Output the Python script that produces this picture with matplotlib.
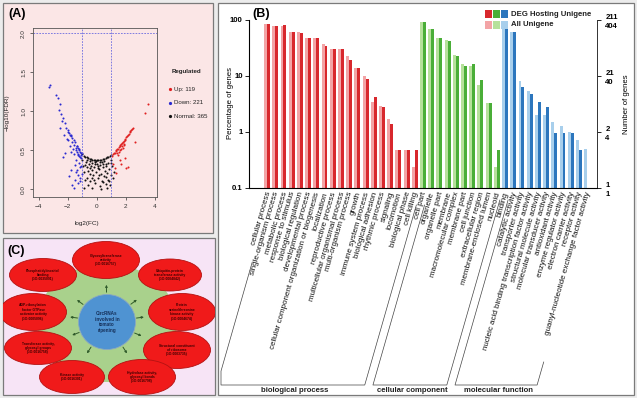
import numpy as np
import matplotlib
matplotlib.use('Agg')
import matplotlib.pyplot as plt
import matplotlib.transforms as mtransforms
from matplotlib.patches import Rectangle, Ellipse
from matplotlib.lines import Line2D

plt.rcParams['font.family'] = ['Liberation Sans', 'DejaVu Sans']

# ---------------- Panel A data (volcano) ----------------
up_fc = [2.49, 2.38, 2.26, 2.15, 2.03, 1.92, 1.80, 1.69, 1.57, 1.46, 1.34, 1.23, 1.11, 1.46, 1.85,
         3.52, 3.34, 2.61, 1.80, 1.92, 1.69, 2.03, 2.15, 1.34, 1.11, 1.23, 1.57,
         1.05, 1.17, 1.29, 1.40, 1.52, 1.63, 1.74, 1.86, 1.97, 2.09, 2.20, 2.32, 2.43,
         1.50, 1.60, 1.70, 1.40, 1.75, 1.90]
up_fdr = [0.79, 0.76, 0.73, 0.70, 0.67, 0.63, 0.60, 0.58, 0.55, 0.52, 0.50, 0.47, 0.45, 0.44, 0.58,
          1.10, 0.98, 0.60, 0.53, 0.40, 0.33, 0.27, 0.29, 0.21, 0.33, 0.27, 0.38,
          0.43, 0.46, 0.49, 0.51, 0.54, 0.57, 0.59, 0.62, 0.65, 0.68, 0.71, 0.75, 0.77,
          0.48, 0.50, 0.52, 0.46, 0.55, 0.57]
down_fc = [-3.29, -3.24, -2.83, -2.67, -2.55, -2.60, -2.44, -2.33, -2.42, -2.21, -2.55, -2.10, -1.98,
           -2.28, -1.87, -1.75, -1.98, -1.68, -1.59, -1.87, -1.45, -1.36, -2.21, -2.33, -1.29, -1.18,
           -1.41, -1.06, -1.52, -1.75, -1.36, -1.91, -1.52, -1.29, -1.59, -1.18, -1.80, -2.03, -1.22,
           -1.13, -1.05, -1.10, -1.15, -1.20, -1.25, -1.30, -1.35, -1.40, -1.50, -1.60, -1.70, -1.80,
           -1.90, -2.00, -1.12, -1.20, -1.30, -1.45, -1.55, -1.65, -1.10, -1.05, -1.15, -1.30, -1.70,
           -1.45]
down_fdr = [1.31, 1.34, 1.21, 1.17, 1.10, 1.02, 0.97, 0.91, 0.87, 0.85, 0.79, 0.78, 0.74,
            0.70, 0.70, 0.68, 0.63, 0.61, 0.57, 0.55, 0.53, 0.48, 0.47, 0.42, 0.44, 0.42,
            0.38, 0.40, 0.31, 0.25, 0.25, 0.17, 0.12, 0.18, 0.02, 0.10, 0.48, 0.65, 0.34,
            0.29, 0.46, 0.47, 0.48, 0.50, 0.51, 0.53, 0.55, 0.56, 0.60, 0.63, 0.66, 0.69,
            0.72, 0.76, 0.44, 0.43, 0.45, 0.50, 0.45, 0.52, 0.30, 0.20, 0.15, 0.08, 0.05,
            0.22]
normal_fc = [-1.0, -0.9, -0.8, -0.7, -0.6, -0.5, -0.4, -0.3, -0.2, -0.1, 0.0, 0.1, 0.2, 0.3, 0.4,
             0.5, 0.6, 0.7, 0.8, 0.9, 1.0,
             -0.95, -0.85, -0.75, -0.7, -0.65, -0.6, -0.55, -0.5, -0.45, -0.4, -0.35, -0.3, -0.25,
             -0.2, -0.15, -0.1, -0.05, 0.0, 0.05, 0.1, 0.15, 0.2, 0.25, 0.3, 0.35, 0.4, 0.45, 0.5,
             0.55, 0.6, 0.65, 0.7, 0.75, 0.8, 0.85, 0.9, 0.95, 1.05, 1.1, 1.2, -0.9, -0.8, -0.35,
             0.3, 0.7, -0.6, -0.2, 0.15, 0.5, -0.5, -0.15, 0.25, 0.6, -0.8, -0.3, 0.05, 0.45, 0.85,
             -0.65, 0.35, -1.0, 1.0, -0.05, 0.95, -0.45, 0.65]
normal_fdr = [0.45, 0.43, 0.42, 0.41, 0.40, 0.39, 0.385, 0.38, 0.375, 0.37, 0.37, 0.37, 0.375, 0.38,
              0.385, 0.39, 0.40, 0.41, 0.42, 0.43, 0.44,
              0.30, 0.22, 0.35, 0.15, 0.28, 0.05, 0.33, 0.20, 0.10, 0.30, 0.25, 0.34, 0.18,
              0.29, 0.08, 0.32, 0.22, 0.33, 0.14, 0.30, 0.26, 0.04, 0.31, 0.20, 0.11, 0.28, 0.33, 0.17,
              0.24, 0.07, 0.30, 0.21, 0.12, 0.34, 0.26, 0.05, 0.18, 0.30, 0.15, 0.22, 0.02, 0.12, 0.02,
              0.00, 0.01, 0.24, 0.12, 0.18, 0.36, 0.36, 0.35, 0.35, 0.32, 0.31, 0.14, 0.27, 0.09, 0.10,
              0.37, 0.35, 0.38, 0.37, 0.36, 0.34, 0.27, 0.16]
volcano_legend = ['Up: 119', 'Down: 221', 'Normal: 365']

# ---------------- Panel B data (GO classification) ----------------
bp_terms = ['cellular process', 'single-organism process', 'metabolic process', 'response to stimulus',
            'biological regulation', 'developmental process',
            'cellular component organization or biogenesis', 'localization', 'reproductive process',
            'multicellular organismal process', 'multi-organism process', 'growth',
            'immune system process', 'biological adhesion', 'rhythmic process', 'signaling',
            'locomotion', 'biological phase', 'cell killing']
bp_deg = [85, 79, 80, 62, 59, 47, 47, 34, 30, 30, 19.4, 13.7, 8.9, 4.3, 2.85, 1.4, 0.47, 0.47, 0.47]
bp_all = [85, 79, 78, 62, 60, 47, 48, 38, 30, 30, 23, 14, 10, 3.5, 2.9, 1.7, 0.48, 0.48, 0.24]

cc_terms = ['cell part', 'organelle', 'organelle part', 'membrane', 'macromolecular complex',
            'membrane part', 'cell junction', 'extracellular region', 'membrane-enclosed lumen',
            'nucleoid']
cc_deg = [92, 68, 47, 43, 23, 15.3, 16.4, 8.5, 3.3, 0.47]
cc_all = [92, 68, 48, 44, 24, 16.4, 15.3, 6.9, 3.3, 0.24]

mf_terms = ['binding', 'catalytic activity', 'transporter activity',
            'nucleic acid binding transcription factor activity', 'structural molecule activity',
            'molecular transducer activity', 'antioxidant activity', 'enzyme regulator activity',
            'electron carrier activity', 'receptor activity',
            'guanyl-nucleotide exchange factor activity']
mf_deg = [72, 60, 6.3, 4.8, 3.4, 2.85, 0.95, 0.95, 0.95, 0.47, 0]
mf_all = [78, 60, 8.0, 5.5, 2.0, 2.0, 1.48, 1.26, 1.0, 0.73, 0.49]

group_names = ['biological process', 'cellular component', 'molecular function']
pct_ticks = [100, 10, 1, 0.1]
pct_ticklabels = ['100', '10', '1', '0.1']
deg_counts = ['211', '21', '2', '1']
all_counts = ['404', '40', '4', '1']

# ---------------- Panel C data (diagram) ----------------
center_text = 'CircRNAs\ninvolved in\ntomato\nripening'
node_texts = ['Glycosyltransferase\nactivity\n(GO:0016757)',
              'Phosphatidylinositol\nbinding\n(GO:0035091)',
              'Ubiquitin-protein\ntransferase activity\n(GO:0004842)',
              'ADP-ribosylation\nfactor GTPase\nactivator activity\n(GO:0005096)',
              'Protein\nserine/threonine\nkinase activity\n(GO:0004674)',
              'Transferase activity,\nglycosyl groups\n(GO:0016758)',
              'Structural constituent\nof ribosome\n(GO:0003735)',
              'Kinase activity\n(GO:0016301)',
              'Hydrolase activity,\nglycosyl bonds\n(GO:0016798)']

# =========================================================
W, H = 637, 398
fig = plt.figure(figsize=(W / 100, H / 100), dpi=100, facecolor='#ececec')


def fr(l, t, r, b):
    return [l / W, 1 - b / H, (r - l) / W, (b - t) / H]


def fx(x):
    return x / W


def fy(y):
    return 1 - y / H


def panel_bg(l, t, r, b, fc):
    fig.patches.append(Rectangle((fx(l), fy(b)), (r - l) / W, (b - t) / H, transform=fig.transFigure,
                                 facecolor=fc, edgecolor='#7a7a7a', lw=0.9, zorder=-5))


panel_bg(3, 3, 213, 233, '#fbe6e6')
panel_bg(218, 3, 634, 395, '#ffffff')
panel_bg(3, 238, 215, 395, '#f7e4f6')

# ---------------- Panel A ----------------
axA = fig.add_axes(fr(33, 28, 157, 197))
axA.patch.set_alpha(0)
axA.scatter(normal_fc, normal_fdr, s=2.2, c='#111111', linewidths=0)
axA.scatter(down_fc, down_fdr, s=2.2, c='#2a2ad0', linewidths=0)
axA.scatter(up_fc, up_fdr, s=2.2, c='#e02020', linewidths=0)
dash = dict(color='#6a6ae0', lw=0.6, ls=(0, (2, 1.5)))
axA.axhline(2.0, **dash)
axA.axvline(-1, **dash)
axA.axvline(1, **dash)
axA.set_xlim(-4.4, 4.15)
axA.set_ylim(-0.1, 2.07)
axA.set_xticks([-4, -2, 0, 2, 4])
axA.set_yticks([0, 0.5, 1.0, 1.5, 2.0])
axA.set_yticklabels(['0.0', '0.5', '1.0', '1.5', '2.0'], rotation=90, va='center')
axA.tick_params(labelsize=4.6, length=2.5, width=0.5, colors='#333333', pad=2.5)
for s in axA.spines.values():
    s.set_linewidth(0.6)
    s.set_color('#555555')
fig.text(fx(7), fy(113), '\u2212log10(FDR)', rotation=90, ha='center', va='center', size=4.6,
         color='#222222')
fig.text(fx(87), fy(224), 'log2(FC)', ha='center', va='center', size=4.6, color='#222222')
fig.text(fx(8), fy(14), '(A)', ha='left', va='center', size=9, weight='bold')
fig.text(fx(172), fy(72), 'Regulated', ha='left', va='center', size=4.4, weight='bold', color='#222222')
for k, (lab, col) in enumerate(zip(volcano_legend, ['#e02020', '#2a2ad0', '#111111'])):
    yy = 89 + k * 13.5
    fig.add_artist(Line2D([fx(170)], [fy(yy)], marker='o', ms=1.3, color=col, lw=0,
                          transform=fig.transFigure))
    fig.text(fx(174), fy(yy), lab, ha='left', va='center', size=4.4, color='#222222')

# ---------------- Panel B ----------------
axB = fig.add_axes(fr(249, 20, 597, 188))
axB.set_yscale('log')
groups = [(bp_terms, bp_deg, bp_all, '#d8282d', '#f3a4a6'),
          (cc_terms, cc_deg, cc_all, '#4aae38', '#b6e19b'),
          (mf_terms, mf_deg, mf_all, '#2c76bd', '#a8cfec')]
all_terms = []
group_ranges = []
start = 0
bw = 0.36
for terms, deg, allv, cd, cl in groups:
    xs = np.arange(start, start + len(terms))
    allv = np.array(allv, float)
    deg = np.array(deg, float)
    axB.bar(xs - bw / 2, allv, width=bw, color=cl, linewidth=0)
    m = deg > 0
    axB.bar(xs[m] + bw / 2, deg[m], width=bw, color=cd, linewidth=0)
    all_terms += terms
    group_ranges.append((start, start + len(terms) - 1))
    start += len(terms)
axB.set_xlim(-2.2, 40.2)
axB.set_ylim(0.1, 100)
axB.set_xticks([])
axB.set_yticks(pct_ticks)
axB.set_yticklabels(pct_ticklabels)
axB.minorticks_off()
axB.tick_params(axis='y', labelsize=5.6, length=3, width=0.6, pad=1.5)
for lab in axB.get_yticklabels():
    lab.set_fontweight('bold')
axB.spines['top'].set_visible(False)
for s in ['left', 'bottom', 'right']:
    axB.spines[s].set_linewidth(0.6)
    axB.spines[s].set_color('#333333')

axR = axB.twinx()
axR.set_yscale('log')
axR.set_ylim(0.1, 100)
axR.set_yticks(pct_ticks)
axR.set_yticklabels([a + '\n' + b for a, b in zip(deg_counts, all_counts)], linespacing=1.45)
axR.minorticks_off()
axR.tick_params(axis='y', labelsize=5.6, length=3, width=0.6, pad=3)
for lab in axR.get_yticklabels():
    lab.set_fontweight('bold')
axR.spines['top'].set_visible(False)
axR.spines['right'].set_linewidth(0.6)
axR.spines['right'].set_color('#333333')

# category labels
rot = 74
lab_tr = mtransforms.offset_copy(mtransforms.blended_transform_factory(axB.transData, axB.transAxes),
                                 fig=fig, x=1.5, y=-4, units='dots')
for i, t in enumerate(all_terms):
    axB.text(i, 0, t, rotation=rot, rotation_mode='anchor', ha='right', va='center',
             transform=lab_tr, size=5.8, color='#111111')

fig.text(fx(230), fy(103), 'Percentage of genes', rotation=90, ha='center', va='center', size=5.6)
fig.text(fx(627), fy(104), 'Number of genes', rotation=90, ha='center', va='center', size=5.6)
fig.text(fx(252), fy(14), '(B)', ha='left', va='center', size=9, weight='bold')

# legend
leg_cols = [('#d8282d', '#4aae38', '#2c76bd'), ('#f3a4a6', '#b6e19b', '#a8cfec')]
leg_text = ['DEG Hosting Unigene', 'All Unigene']
for r, (cols, txt) in enumerate(zip(leg_cols, leg_text)):
    yy = 14 + r * 11
    for c, col in enumerate(cols):
        fig.patches.append(Rectangle((fx(485 + c * 8), fy(yy + 3.5)), 6.5 / W, 7 / H,
                                     transform=fig.transFigure, facecolor=col, lw=0, zorder=5))
    fig.text(fx(511), fy(yy), txt, ha='left', va='center', size=5.6, weight='bold', color='#222222')

# group brackets
fig.canvas.draw()
slope = 1 / np.tan(np.deg2rad(rot))
ybot = 385
tops = [(262, 205), (205, 200), (200, 362)]
for g, ((i0, i1), name, (tl, trt)) in enumerate(zip(group_ranges, group_names, tops)):
    x0 = axB.transData.transform((i0, 1))[0] + 3
    x1 = axB.transData.transform((i1, 1))[0] + 3
    bl = x0 - slope * (ybot - 200)
    br = x1 - slope * (ybot - 200)
    pts = []
    if bl < 221:
        ycut = 200 + (x0 - 221) / slope
        pts += [(x0 - slope * (tl - 200), tl), (221, ycut), (221, ybot)]
        bl = 221
    else:
        pts += [(x0 - slope * (tl - 200), tl), (bl, ybot)]
    pts += [(br, ybot), (x1 - slope * (trt - 200), trt)]
    fig.add_artist(Line2D([fx(p[0]) for p in pts], [fy(p[1]) for p in pts], color='#444444', lw=0.5,
                          transform=fig.transFigure))
    fig.text(fx((bl + br) / 2 + 2), fy(391), name, ha='center', va='center', size=5.6, weight='bold',
             color='#222222')

# ---------------- Panel C ----------------
axC = fig.add_axes(fr(3, 238, 215, 395))
axC.set_xlim(3, 215)
axC.set_ylim(395, 238)
axC.axis('off')
cx, cy = 107, 322
axC.add_patch(Ellipse((cx, cy + 1), 140, 118, facecolor='#a9d18c', edgecolor='none'))
node_layout = [(-1, -62, 67, 37), (-64, -47, 67, 33), (63, -47, 63, 32), (-74, -10, 67, 37),
               (75, -10, 67, 37), (-69, 26, 67, 33), (70, 28, 67, 37), (-35, 55, 65, 33),
               (35, 55, 67, 35)]
for (dx, dy, w, h), txt in zip(node_layout, node_texts):
    ang = np.arctan2(dy, dx)
    axC.annotate('', xy=(cx + 40 * np.cos(ang), cy + 40 * np.sin(ang)),
                 xytext=(cx + 27 * np.cos(ang), cy + 27 * np.sin(ang)),
                 arrowprops=dict(arrowstyle='-|>', color='#2f5a2a', lw=0.7, mutation_scale=3))
for (dx, dy, w, h), txt in zip(node_layout, node_texts):
    axC.add_patch(Ellipse((cx + dx, cy + dy), w, h, facecolor='#f01a1a', edgecolor='#b31212', lw=0.6))
    axC.text(cx + dx, cy + dy, txt, ha='center', va='center', size=2.4, color='#3a0000',
             weight='bold', linespacing=1.15)
axC.add_patch(Ellipse((cx, cy), 57, 55, facecolor='#4f93d2', edgecolor='#8aa7c2', lw=0.6))
axC.text(cx, cy, center_text, ha='center', va='center', size=3.3, color='#15305a', weight='bold',
         linespacing=1.2)
fig.text(fx(7), fy(251), '(C)', ha='left', va='center', size=9, weight='bold')

fig.savefig('out.png', dpi=100, facecolor=fig.get_facecolor())
